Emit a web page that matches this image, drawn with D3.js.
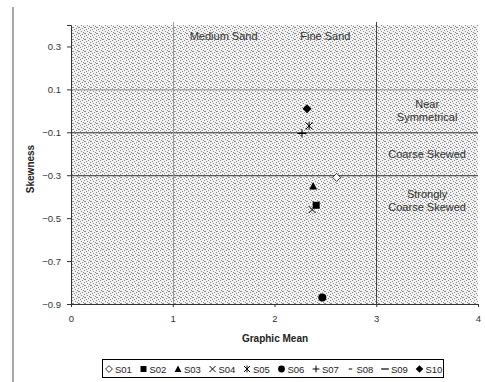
<!DOCTYPE html>
<html>
<head>
<meta charset="utf-8">
<script src="https://cdn.jsdelivr.net/npm/d3@7"></script>
<style>
  body { margin: 0; background: #fff; }
  text { font-family: "Liberation Sans", Arial, sans-serif; }
</style>
</head>
<body>
<svg width="485" height="382"></svg>
<script>
// series data
const seriesNames = ["S01", "S02", "S03", "S04", "S05", "S06", "S07", "S08", "S09", "S10"];
const meanValues = [2.61, 2.41, 2.38, 2.37, 2.34, 2.47, 2.27, 2.27, 2.27, 2.32];
const skewValues = [-0.31, -0.44, -0.35, -0.46, -0.07, -0.87, -0.105, -0.105, -0.105, 0.01];
const symbolKinds = ["diamondOpen", "square", "triangle", "cross", "asterisk", "circle", "plus", "dash", "longdash", "diamond"];

const xTicks = [0, 1, 2, 3, 4];
const yTicks = [-0.9, -0.7, -0.5, -0.3, -0.1, 0.1, 0.3];
const hLines = [{ v: 0.1, c: "#8a8a8a" }, { v: -0.1, c: "#333" }, { v: -0.3, c: "#333" }];
const vLines = [{ v: 1, c: "#999" }, { v: 3, c: "#444" }];
const regionLabels = [
  { x: 1.5, y: 0.35, lines: ["Medium Sand"] },
  { x: 2.5, y: 0.35, lines: ["Fine Sand"] },
  { x: 3.5, y: 0.0, lines: ["Near", "Symmetrical"] },
  { x: 3.5, y: -0.2, lines: ["Coarse Skewed"] },
  { x: 3.5, y: -0.42, lines: ["Strongly", "Coarse Skewed"] }
];

const svg = d3.select("svg");
const margin = { top: 25, left: 71, right: 7, bottom: 78 };
const width = 485 - margin.left - margin.right,
  height = 382 - margin.top - margin.bottom;

const x = d3.scaleLinear().domain([0, 4]).range([margin.left, margin.left + width]);
const y = d3.scaleLinear().domain([-0.9, 0.4]).range([margin.top + height, margin.top]);

// stipple texture for the plot area
const defs = svg.append("defs");
const pat = defs.append("pattern")
  .attr("id", "stipple")
  .attr("patternUnits", "userSpaceOnUse")
  .attr("width", 6).attr("height", 6);
pat.append("rect").attr("width", 6).attr("height", 6).attr("fill", "#f2f2f2");
[[0, 0], [3, 1], [1, 3], [4, 4], [2, 5], [5, 2], [0, 3]].forEach(([px, py]) => {
  pat.append("rect").attr("x", px).attr("y", py).attr("width", 1).attr("height", 1).attr("fill", "#8a8a8a");
});

// left gray border line
svg.append("rect").attr("x", 12).attr("y", 7).attr("width", 2).attr("height", 375).attr("fill", "#a8a8a8");

svg.append("rect")
  .attr("x", margin.left).attr("y", margin.top)
  .attr("width", width).attr("height", height)
  .attr("fill", "url(#stipple)");

// reference lines
svg.selectAll("line.h").data(hLines).enter().append("line")
  .attr("x1", margin.left).attr("x2", margin.left + width)
  .attr("y1", d => y(d.v) + 0.5).attr("y2", d => y(d.v) + 0.5)
  .attr("stroke", d => d.c).attr("stroke-width", 1);
svg.selectAll("line.v").data(vLines).enter().append("line")
  .attr("x1", d => Math.round(x(d.v)) + 0.5).attr("x2", d => Math.round(x(d.v)) + 0.5)
  .attr("y1", margin.top - 3).attr("y2", margin.top + height)
  .attr("stroke", d => d.c).attr("stroke-width", 1);

// axes
const yAxis = svg.append("g")
  .attr("transform", `translate(${margin.left},0)`)
  .call(d3.axisLeft(y).tickValues(yTicks).tickSize(4).tickPadding(6).tickFormat(d3.format(".1f")));
const xAxis = svg.append("g")
  .attr("transform", `translate(0,${margin.top + height})`)
  .call(d3.axisBottom(x).tickValues(xTicks).tickSize(3).tickFormat(d3.format("d")));
[xAxis, yAxis].forEach(a => {
  a.select(".domain").attr("stroke", "#333");
  a.selectAll(".tick line").attr("stroke", "#333");
  a.selectAll("text").attr("font-size", 9.5).attr("fill", "#333")
    .attr("font-family", "Liberation Sans, Arial, sans-serif");
});
xAxis.selectAll("text").attr("dy", "1.3em");

svg.append("text")
  .attr("x", 275).attr("y", 342)
  .attr("text-anchor", "middle").attr("font-size", 10).attr("font-weight", "bold").attr("fill", "#222")
  .text("Graphic Mean");
svg.append("text")
  .attr("transform", "translate(34,169) rotate(-90)")
  .attr("text-anchor", "middle").attr("font-size", 10).attr("font-weight", "bold").attr("fill", "#222")
  .text("Skewness");

// region labels
regionLabels.forEach(r => {
  const t = svg.append("text")
    .attr("x", x(r.x)).attr("y", y(r.y) - (r.lines.length - 1) * 6.5 + 4)
    .attr("text-anchor", "middle").attr("font-size", 11).attr("fill", "#333");
  r.lines.forEach((l, i) => {
    t.append("tspan").attr("x", x(r.x)).attr("dy", i ? 13 : 0).text(l);
  });
});

// marker drawing
function drawMarker(g, kind, s) {
  const k = s || 1;
  switch (kind) {
    case "diamondOpen":
      g.append("path").attr("d", `M0,${-4 * k}L${4 * k},0L0,${4 * k}L${-4 * k},0Z`)
        .attr("fill", "#fff").attr("stroke", "#000").attr("stroke-width", 0.8);
      break;
    case "diamond":
      g.append("path").attr("d", `M0,${-4.5 * k}L${4.5 * k},0L0,${4.5 * k}L${-4.5 * k},0Z`).attr("fill", "#000");
      break;
    case "square":
      g.append("rect").attr("x", -3.5 * k).attr("y", -3.5 * k).attr("width", 7 * k).attr("height", 7 * k).attr("fill", "#000");
      break;
    case "triangle":
      g.append("path").attr("d", `M0,${-4 * k}L${4 * k},${3.5 * k}L${-4 * k},${3.5 * k}Z`).attr("fill", "#000");
      break;
    case "circle":
      g.append("circle").attr("r", 4 * k).attr("fill", "#000");
      break;
    case "cross":
      g.append("path").attr("d", `M${-3.5 * k},${-3.5 * k}L${3.5 * k},${3.5 * k}M${3.5 * k},${-3.5 * k}L${-3.5 * k},${3.5 * k}`)
        .attr("stroke", "#000").attr("stroke-width", 1);
      break;
    case "asterisk":
      g.append("path").attr("d", `M${-3.5 * k},${-3.5 * k}L${3.5 * k},${3.5 * k}M${3.5 * k},${-3.5 * k}L${-3.5 * k},${3.5 * k}M0,${-4 * k}L0,${4 * k}`)
        .attr("stroke", "#000").attr("stroke-width", 1);
      break;
    case "plus":
      g.append("path").attr("d", `M${-4 * k},0L${4 * k},0M0,${-4 * k}L0,${4 * k}`)
        .attr("stroke", "#000").attr("stroke-width", 1);
      break;
    case "dash":
      g.append("path").attr("d", `M${-2 * k},0L${2 * k},0`).attr("stroke", "#000").attr("stroke-width", 1);
      break;
    case "longdash":
      g.append("path").attr("d", `M${-4.5 * k},0L${4.5 * k},0`).attr("stroke", "#000").attr("stroke-width", 1.2);
      break;
  }
}

// points
seriesNames.forEach((name, i) => {
  const g = svg.append("g").attr("transform", `translate(${x(meanValues[i])},${y(skewValues[i])})`);
  drawMarker(g, symbolKinds[i], 1);
});

// legend
const legend = svg.append("g");
legend.append("rect").attr("x", 102.5).attr("y", 359.5).attr("width", 341).attr("height", 18)
  .attr("fill", "#fff").attr("stroke", "#000").attr("stroke-width", 1);
let lx = 109;
seriesNames.forEach((name, i) => {
  const g = legend.append("g").attr("transform", `translate(${lx},369)`);
  drawMarker(g, symbolKinds[i], 0.85);
  g.append("text").attr("x", 6).attr("y", 3.5).attr("font-size", 9.5).attr("fill", "#222").text(name);
  lx += 34.5;
});
</script>
</body>
</html>
